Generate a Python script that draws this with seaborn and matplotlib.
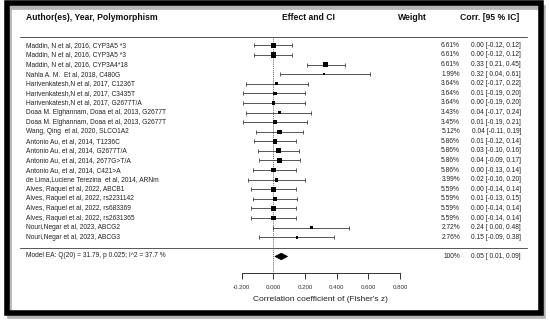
import numpy as np
import pandas as pd
import seaborn as sns
import matplotlib.pyplot as plt
from matplotlib.patches import Rectangle, Polygon
from matplotlib.transforms import blended_transform_factory

studies = [
    "Maddin, N et al, 2016, CYP3A5 *3",
    "Maddin, N et al, 2016, CYP3A5 *3",
    "Maddin, N et al, 2016, CYP3A4*18",
    "Nahla A. M.  Et al, 2018, C480G",
    "Harivenkatesh,N et al, 2017, C1236T",
    "Harivenkatesh,N et al, 2017, C3435T",
    "Harivenkatesh,N et al, 2017, G2677T/A",
    "Doaa M. Elghannam, Doaa et al, 2013, G2677T",
    "Doaa M. Elghannam, Doaa et al, 2013, G2677T",
    "Wang, Qing  et al, 2020, SLCO1A2",
    "Antonio Au, et al, 2014, T1236C",
    "Antonio Au, et al, 2014, G2677T/A",
    "Antonio Au, et al, 2014, 2677G>T/A",
    "Antonio Au, et al, 2014, C421>A",
    "de Lima,Luciene Terezina  et al, 2014, ARNm",
    "Alves, Raquel et al, 2022, ABCB1",
    "Alves, Raquel et al, 2022, rs2231142",
    "Alves, Raquel et al, 2022, rs683369",
    "Alves, Raquel et al, 2022, rs2631365",
    "Nouri,Negar et al, 2023, ABCG2",
    "Nouri,Negar et al, 2023, ABCG3",
]
weights = [6.61, 6.61, 6.61, 1.99, 3.64, 3.64, 3.64, 3.43, 3.45, 5.12, 5.86,
           5.86, 5.86, 5.86, 3.99, 5.59, 5.59, 5.59, 5.59, 2.72, 2.76]
est = [0.00, 0.00, 0.33, 0.32, 0.02, 0.01, 0.00, 0.04, 0.01, 0.04, 0.01,
       0.03, 0.04, 0.00, 0.02, 0.00, 0.01, 0.00, 0.00, 0.24, 0.15]
lower = [-0.12, -0.12, 0.21, 0.04, -0.17, -0.19, -0.19, -0.17, -0.19, -0.11, -0.12,
         -0.10, -0.09, -0.13, -0.16, -0.14, -0.13, -0.14, -0.14, 0.00, -0.09]
upper = [0.12, 0.12, 0.45, 0.61, 0.22, 0.20, 0.20, 0.24, 0.21, 0.19, 0.14,
         0.16, 0.17, 0.14, 0.20, 0.14, 0.15, 0.14, 0.14, 0.48, 0.38]

model_label = "Model EA: Q(20) = 31.79, p 0.025; I^2 = 37.7 %"
model_est, model_lo, model_hi = 0.05, 0.01, 0.09
x_ticks = [-0.2, 0.0, 0.2, 0.4, 0.6, 0.8]

df = pd.DataFrame({"study": studies, "weight": weights, "est": est,
                   "lo": lower, "hi": upper})
df["row"] = np.arange(len(df))

sns.set_theme(style="white")
plt.rcParams["font.family"] = ["Liberation Sans", "DejaVu Sans"]

W, H = 550, 324
fig = plt.figure(figsize=(W / 100, H / 100), dpi=100)
fig.patch.set_facecolor("white")

def fx(px):
    return px / W

# frame with shadow
fig.patches.append(Rectangle((fx(8.5), 1 - 315.5 / H), fx(534), (309) / H,
                             transform=fig.transFigure, fill=False,
                             edgecolor="#b5b5b5", lw=3.4))
fig.patches.append(Rectangle((fx(6.5), 1 - 312.5 / H), fx(534), (309.5) / H,
                             transform=fig.transFigure, fill=False,
                             edgecolor="black", lw=4.0))

# main forest axes: -0.2 .. 0.8 spans px 241.7 .. 400
ax = fig.add_axes([fx(241.7), 1 - 272.5 / H, fx(400 - 241.7), (272.5 - 10) / H])
ax.patch.set_alpha(0)
ax.set_xlim(-0.2, 0.8)
ax.set_ylim(23.67, -3.68)

line_col = "#555555"
ax.errorbar(df["est"], df["row"], xerr=[df["est"] - df["lo"], df["hi"] - df["est"]],
            fmt="none", ecolor=line_col, elinewidth=0.7, capsize=1.1, capthick=0.7)
sns.scatterplot(data=df, x="est", y="row", size="weight", sizes=(1.6, 14),
                size_norm=(min(weights), max(weights)), marker="s",
                color="black", linewidth=0, legend=False, ax=ax, zorder=3)

# summary diamond
ymod = 22
ax.add_patch(Polygon([[model_lo, ymod], [model_est, ymod - 0.34],
                      [model_hi, ymod], [model_est, ymod + 0.34]],
                     closed=True, facecolor="black", edgecolor="black", lw=0.5))

# reference line at 0
ax.plot([0, 0], [-0.9, 23.67], color="#333333", lw=0.6, ls=(0, (1, 1.3)),
        clip_on=False)

# header and separators
trans = blended_transform_factory(fig.transFigure, ax.transData)
for yy in (-0.9, 21.08):
    ax.plot([fx(20), fx(527)], [yy, yy], color="#555555", lw=0.7,
            transform=trans, clip_on=False)

hdr = dict(fontsize=6.2, fontweight="bold", color="#111111", va="center",
           transform=trans)
ax.text(fx(26), -2.95, "Author(es), Year, Polymorphism", ha="left", **hdr)
ax.text(fx(309), -2.95, "Effect and CI", ha="center", **hdr)
ax.text(fx(412), -2.95, "Weight", ha="center", **hdr)
ax.text(fx(489.5), -2.95, "Corr. [95 % IC]", ha="center", **hdr)

txt = dict(fontsize=4.8, color="#222222", va="center", transform=trans)
for r, s, w, e, lo, hi in zip(df["row"], studies, weights, est, lower, upper):
    ax.text(fx(26), r, s, ha="left", **txt)
    ax.text(fx(460), r, f"{w:.2f}%", ha="right", **txt)
    ax.text(fx(521), r, f"{e:.2f} [{lo: .2f}, {hi:.2f}]", ha="right", **txt)

ax.text(fx(26), ymod - 0.1, model_label, ha="left", **txt)
ax.text(fx(460), ymod, "100%", ha="right", **txt)
ax.text(fx(521), ymod, f"{model_est:.2f} [{model_lo: .2f}, {model_hi:.2f}]",
        ha="right", **txt)

# axis
for side in ("top", "left", "right"):
    ax.spines[side].set_visible(False)
ax.spines["bottom"].set_color("#333333")
ax.spines["bottom"].set_linewidth(0.7)
ax.set_yticks([])
ax.set_xticks(x_ticks)
ax.set_xticklabels([f"{t:.3f}" for t in x_ticks])
ax.tick_params(axis="x", bottom=True, direction="out", length=4, width=0.7,
               color="#333333", labelsize=4.4, labelcolor="#333333", pad=5)
ax.set_xlabel("Correlation coefficient of (Fisher's z)", fontsize=6,
              color="#222222", labelpad=4)
ax.set_ylabel("")

fig.savefig("out.png", dpi=100, facecolor="white")
